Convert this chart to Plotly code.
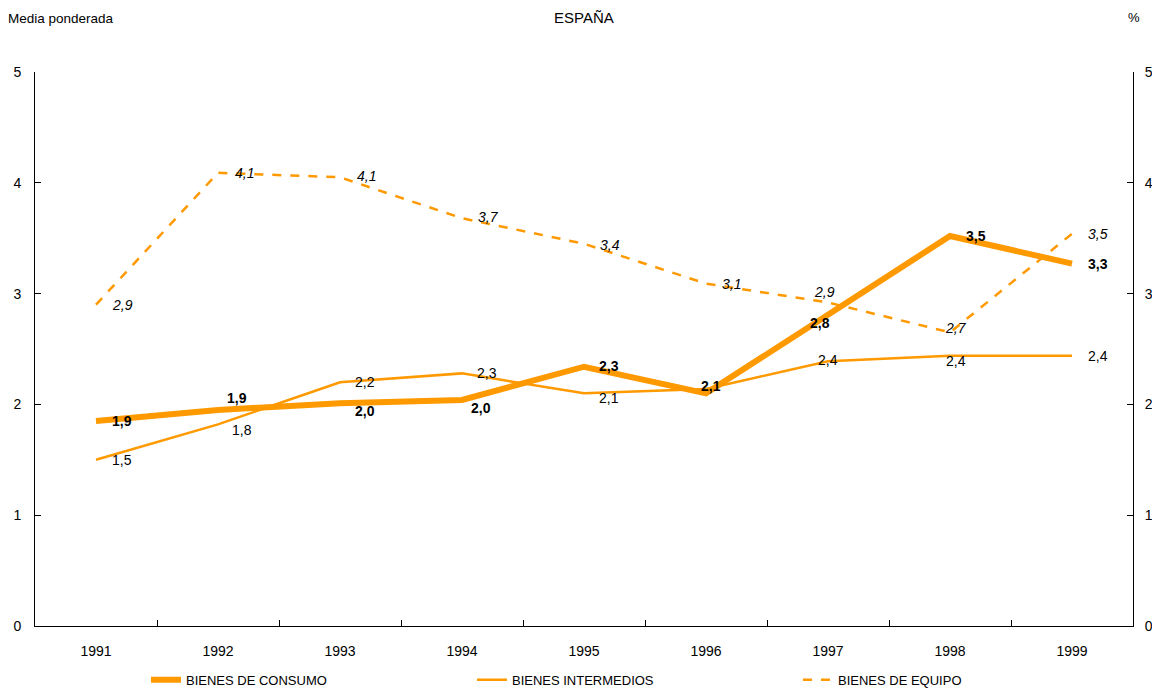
import plotly.graph_objects as go

years = ["1991", "1992", "1993", "1994", "1995", "1996", "1997", "1998", "1999"]
consumo = [1.85, 1.95, 2.01, 2.04, 2.34, 2.10, 2.81, 3.52, 3.27]
intermedios = [1.50, 1.82, 2.20, 2.28, 2.10, 2.14, 2.39, 2.44, 2.44]
equipo = [2.90, 4.09, 4.05, 3.68, 3.45, 3.09, 2.92, 2.65, 3.54]
consumo_lbl = ["1,9", "1,9", "2,0", "2,0", "2,3", "2,1", "2,8", "3,5", "3,3"]
intermedios_lbl = ["1,5", "1,8", "2,2", "2,3", "2,1", "2,1", "2,4", "2,4", "2,4"]
equipo_lbl = ["2,9", "4,1", "4,1", "3,7", "3,4", "3,1", "2,9", "2,7", "3,5"]

ORANGE = "#FF9900"
FONT = "Liberation Sans, Arial, sans-serif"

fig = go.Figure()
fig.add_trace(go.Scatter(x=years, y=consumo, mode="lines", name="BIENES DE CONSUMO",
                         line=dict(color=ORANGE, width=6), hoverinfo="skip"))
fig.add_trace(go.Scatter(x=years, y=intermedios, mode="lines", name="BIENES INTERMEDIOS",
                         line=dict(color=ORANGE, width=2.5), hoverinfo="skip"))
fig.add_trace(go.Scatter(x=years, y=equipo, mode="lines", name="BIENES DE EQUIPO",
                         line=dict(color=ORANGE, width=2.5, dash="dash"), hoverinfo="skip",
                         yaxis="y2"))

# label offsets (px)
c_off = [(26, 0), (19, 12), (25, -8), (19, -8), (25, 1), (5, 7), (-8, -8), (26, 0), (26, 0)]
i_off = [(26, 0), (24, -6), (25, 0), (25, 0), (25, -5), (0, 0), (0, 1), (6, -5), (26, 0)]
e_off = [(26, 0), (26, 0), (26, 1), (26, 1), (26, -1), (25, 0), (-4, 10), (6, 4), (26, 0)]

for k, (y, t, (dx, dy)) in enumerate(zip(consumo, consumo_lbl, c_off)):
    fig.add_annotation(x=k, y=y, xref="x", yref="y", text="<b>" + t + "</b>", showarrow=False,
                       xshift=dx, yshift=dy, font=dict(family=FONT, size=14, color="black"))
for k, (y, t, (dx, dy)) in enumerate(zip(intermedios, intermedios_lbl, i_off)):
    if k == 5:
        continue
    fig.add_annotation(x=k, y=y, xref="x", yref="y", text=t, showarrow=False,
                       xshift=dx, yshift=dy, font=dict(family=FONT, size=14, color="black"))
for k, (y, t, (dx, dy)) in enumerate(zip(equipo, equipo_lbl, e_off)):
    fig.add_annotation(x=k, y=y, xref="x", yref="y", text="<i>" + t + "</i>", showarrow=False,
                       xshift=dx, yshift=dy, font=dict(family=FONT, size=14, color="black"))

fig.add_annotation(text="ESPAÑA", xref="paper", yref="paper", x=0.5, y=1, yshift=55, yanchor="middle",
                   showarrow=False, font=dict(family=FONT, size=15, color="black"))
fig.add_annotation(text="Media ponderada", xref="paper", yref="paper", x=0, xshift=-29, xanchor="left",
                   y=1, yshift=54, yanchor="middle", showarrow=False,
                   font=dict(family=FONT, size=13.5, color="black"))
fig.add_annotation(text="%", xref="paper", yref="paper", x=1, xshift=1, xanchor="center",
                   y=1, yshift=55, yanchor="middle",
                   showarrow=False, font=dict(family=FONT, size=13, color="black"))

axis_common = dict(range=[0, 5], dtick=1, tick0=0, showgrid=False, zeroline=False, automargin=False,
                   showline=True, linecolor="black", linewidth=1, ticks="inside", ticklen=6,
                   tickcolor="black", tickfont=dict(family=FONT, size=14, color="black"))

fig.update_layout(
    width=1144, height=681,
    margin=dict(l=27, r=19, t=64, b=63),
    paper_bgcolor="white", plot_bgcolor="white",
    showlegend=True,
    legend=dict(orientation="h", xref="container", yref="container", x=0.1206, xanchor="left",
                y=0.0135, yanchor="middle", entrywidth=281, entrywidthmode="pixels",
                font=dict(family=FONT, size=13, color="black")),
    xaxis=dict(type="category", range=[-0.5, 8.5], showgrid=False, zeroline=False, automargin=False,
               showline=True, linecolor="black", linewidth=1, ticks="inside", ticklen=6,
               tickson="boundaries", tickcolor="black", ticklabelstandoff=12,
               tickfont=dict(family=FONT, size=14, color="black")),
    yaxis=dict(side="left", ticklabelstandoff=10, **axis_common),
    yaxis2=dict(side="right", overlaying="y", ticklabelstandoff=8, **axis_common),
)

fig.write_html("out.html")
